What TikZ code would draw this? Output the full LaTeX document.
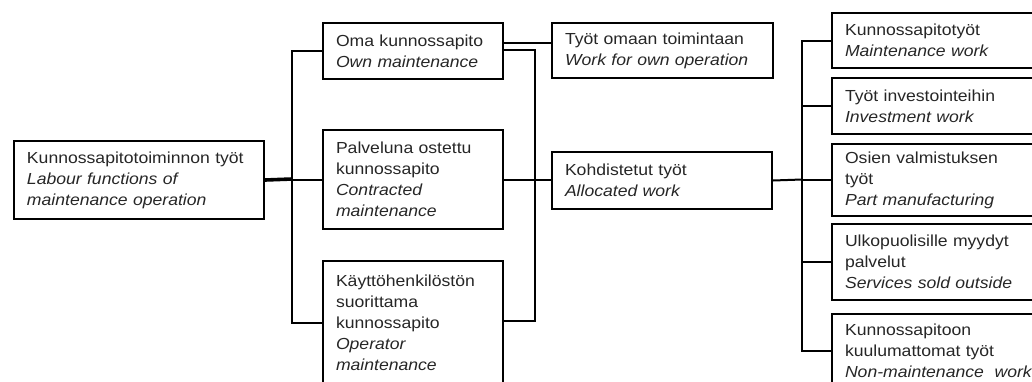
\documentclass[tikz,border=0pt]{standalone}
\usepackage{fontspec}
\setmainfont{Liberation Sans}[FakeStretch=1.1]
\begin{document}
\begin{tikzpicture}[x=1pt,y=1pt,
  box/.style={draw, line width=2pt, rectangle, anchor=north west,
    inner xsep=13pt, inner ysep=0pt, align=left,
    font=\fontsize{16}{21}\selectfont, text=black!85},
  link/.style={line width=2pt},
  trunk/.style={line width=3.6pt}]
\useasboundingbox (0,0) rectangle (1032,-381);

% root
\node[box, text width=224pt, minimum height=78pt] (L) at (13,-140)
  {Kunnossapitotoiminnon~työt\\\textit{Labour~functions~of}\\\textit{maintenance~operation}};

% second column
\node[box, text width=154pt, minimum height=56pt] (Oma) at (322,-22)
  {Oma~kunnossapito\\\textit{Own~maintenance}};
\node[box, text width=154pt, minimum height=99pt] (Pal) at (322,-129)
  {Palveluna~ostettu\\kunnossapito\\\textit{Contracted}\\\textit{maintenance}};
\node[box, text width=154pt, minimum height=124pt] (Kay) at (322,-260)
  {Käyttöhenkilöstön\\suorittama\\kunnossapito\\\textit{Operator}\\\textit{maintenance}};

% third column
\node[box, text width=195pt, minimum height=55pt] (Tyo) at (551,-22)
  {Työt~omaan~toimintaan\\\textit{Work~for~own~operation}};
\node[box, text width=194pt, minimum height=57pt] (Koh) at (551,-151)
  {Kohdistetut~työt\\\textit{Allocated~work}};

% fourth column
\node[box, text width=184pt, minimum height=55pt] (R1) at (831,-12)
  {Kunnossapitotyöt\\\textit{Maintenance~work}};
\node[box, text width=184pt, minimum height=56pt] (R2) at (831,-77)
  {Työt~investointeihin\\\textit{Investment~work}};
\node[box, text width=184pt, minimum height=72pt] (R3) at (831,-143)
  {Osien~valmistuksen\\työt\\\textit{Part~manufacturing}};
\node[box, text width=184pt, minimum height=76pt] (R4) at (831,-223)
  {Ulkopuolisille~myydyt\\palvelut\\\textit{Services~sold~outside}};
\node[box, text width=184pt, minimum height=74pt] (R5) at (831,-313)
  {Kunnossapitoon\\kuulumattomat~työt\\\mbox{\textit{Non-maintenance~~work}}};

% root to second column
\coordinate (lb) at (292,-179);
\draw[trunk] (L.east) -- (lb);
\draw[link] (lb) |- (Oma.west);
\draw[link] (lb) |- (Pal.west);
\draw[link] (lb) |- (Kay.west);

% second to third column
\draw[link] ([yshift=8pt]Oma.east) -- ([yshift=8pt]Oma.east -| Tyo.west);
\draw[link] ([yshift=1pt]Oma.east) -| ([xshift=31pt,yshift=2pt]Kay.east) -- ([yshift=2pt]Kay.east);
\draw[link] (Pal.east) -- (Pal.east -| Koh.west);

% allocated work to fourth column
\coordinate (rb) at (802,-179.5);
\draw[link] (Koh.east) -- (rb);
\draw[link] (rb) |- (R1.west);
\draw[link] (rb) |- (R2.west);
\draw[link] (rb) |- (R3.west);
\draw[link] (rb) |- (R4.west);
\draw[link] (rb) |- (R5.west);
\end{tikzpicture}
\end{document}
